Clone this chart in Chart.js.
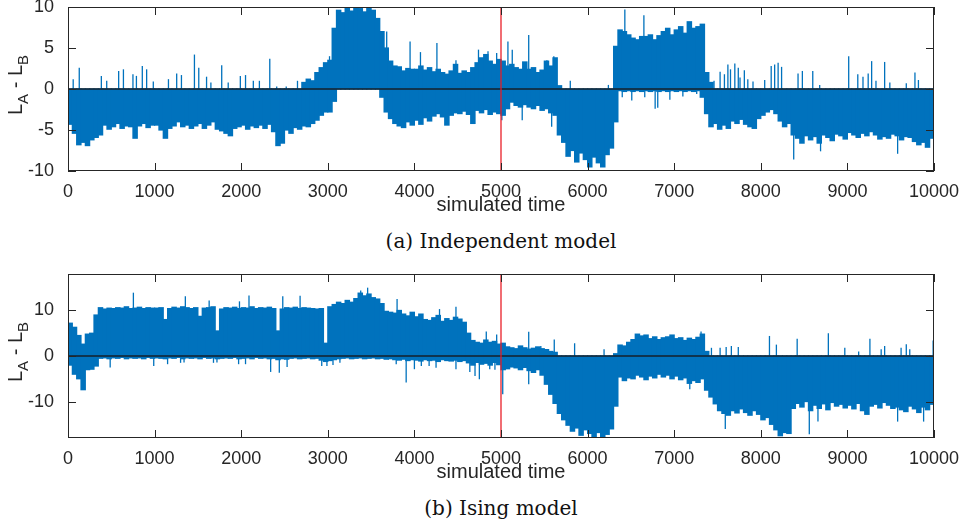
<!DOCTYPE html>
<html><head><meta charset="utf-8">
<script src="https://cdn.jsdelivr.net/npm/chart.js@4.4.1/dist/chart.umd.min.js"></script>
<style>
body{margin:0;background:#fff;width:964px;height:526px;position:relative;overflow:hidden}
canvas{position:absolute;left:0}
.cap{position:absolute;left:0;width:1002px;text-align:center;font-family:"DejaVu Serif",serif;font-size:20px;line-height:22px;color:#111}
</style></head><body>
<canvas id="c1" width="964" height="239" style="top:-13px"></canvas>
<div class="cap" style="top:230px">(a) Independent model</div>
<canvas id="c2" width="964" height="239" style="top:254px"></canvas>
<div class="cap" style="top:497px">(b) Ising model</div>
<script>
// ---- categories / ticks ----
const binWidth = 50;
const binTimes = Array.from({length: 200}, (_, i) => i * binWidth + binWidth / 2);
const xTickValues = [0,1000,2000,3000,4000,5000,6000,7000,8000,9000,10000];
const topYTicks = [-10,-5,0,5,10];
const bottomYTicks = [-10,0,10];
const redLineTime = 5000;

// ---- (a) Independent model: per-bin low / high envelope ----
const topLow = [
 -4.3,-5.4,-6.8,-6.5,-6.9,-6.2,-5.9,-5.6,-4.4,-4.9,-4.6,-4.2,-4.8,-4.5,-4.6,-6.0,-4.5,-4.2,-4.7,-4.4,
 -4.4,-5.0,-6.0,-4.8,-4.5,-4.0,-4.6,-4.4,-4.8,-4.5,-4.2,-4.8,-4.4,-4.0,-4.9,-5.1,-5.4,-5.7,-4.8,-4.6,
 -4.4,-4.9,-4.5,-4.7,-4.4,-4.8,-4.3,-5.2,-6.9,-6.6,-5.0,-5.4,-4.7,-4.9,-4.5,-4.6,-4.2,-3.8,-3.2,-2.8,
 -2.8,-1.5,0,0,0,0,0,0,0,0,0,0,-1.0,-2.8,-3.6,-4.2,-4.5,-4.7,-4.0,-4.4,
 -3.8,-4.3,-3.5,-3.9,-3.3,-3.0,-3.4,-4.4,-3.2,-2.9,-3.0,-2.7,-3.1,-4.2,-2.6,-2.9,-2.5,-3.1,-2.8,-3.0,
 -3.2,-2.4,-1.6,-2.0,-2.2,-1.9,-2.2,-2.4,-2.0,-2.6,-2.4,-2.9,-3.2,-5.6,-6.5,-8.2,-7.5,-8.9,-7.8,-8.6,
 -9.5,-8.3,-9.0,-9.5,-8.0,-7.2,-4.0,-0.2,-0.3,-0.2,-0.3,-0.2,-0.3,-0.2,-0.3,-0.2,-0.3,-0.2,-0.3,-0.2,
 -0.3,-0.2,-0.3,-0.2,-0.3,-0.2,-1.0,-3.0,-4.6,-4.2,-4.9,-4.4,-4.8,-3.9,-4.2,-3.7,-4.3,-4.6,-4.8,-3.6,
 -3.2,-2.8,-2.5,-3.0,-3.9,-4.6,-4.2,-5.6,-6.0,-6.6,-5.7,-6.2,-5.8,-6.6,-5.6,-5.9,-6.3,-5.5,-5.7,-6.1,
 -5.3,-5.6,-5.9,-5.4,-5.7,-5.2,-5.6,-6.1,-5.8,-6.0,-5.5,-5.7,-6.2,-5.8,-5.9,-6.4,-6.8,-6.5,-7.1,-6.0
];
const topHigh = [
 0,0,0,0,0,0,0,0,0,0,0,0,0,0,0,0,0,0,0,0,
 0,0,0,0,0,0,0,0,0,0,0,0,0,0,0,0,0,0,0,0,
 0,0,0,0,0,0,0,0,0,0,0,0,0,0,0.8,1.2,1.0,2.0,2.6,3.2,
 3.5,7.4,9.6,9.3,10.2,9.5,10.2,9.8,9.4,10.2,9.6,8.6,7.0,5.0,3.4,2.8,2.7,2.2,2.5,2.4,
 2.4,2.8,2.3,2.6,2.1,2.4,2.0,1.8,2.2,3.0,1.9,2.2,2.0,2.6,3.2,3.8,4.2,3.4,3.0,3.6,
 3.4,2.8,3.0,2.6,2.4,3.3,2.4,2.6,2.0,2.3,3.4,2.8,3.8,0.4,0,0,0,0,0,0,
 0,0,0,0,0,0,5.2,7.2,7.0,6.6,6.2,6.0,6.4,6.4,6.6,6.0,6.5,7.0,7.4,6.6,
 7.2,7.6,6.8,8.2,7.4,7.6,7.9,2.0,0.8,0,0,0,0,0,0,0,0,0,0,0,
 0,0,0,0,0,0,0,0,0,0,0,0,0,0,0,0,0,0,0,0,
 0,0,0,0,0,0,0,0,0,0,0,0,0,0,0,0,0,0,0,0
];
// isolated thin spikes
const topSpikeTimes = [
 60,130,385,447,585,640,750,790,858,908,985,1160,1255,1310,1460,1510,1600,1650,1775,1850,
 1990,2050,2140,2210,2330,2410,2520,2650,3020,3680,3950,4070,4260,4480,4740,4850,4950,5080,5130,5320,
 5530,5610,5800,6240,6430,6650,7460,7530,7580,7620,7650,7700,7740,7760,7810,7850,7910,8045,8120,8160,
 8200,8240,8430,8480,8600,8680,9015,9120,9180,9240,9280,9330,9430,9490,9680,9780,9820,
 5010,5245,5585,6400,6510,6660,6780,6810,6950,7100,7260,8380,8690,9580
];
const topSpikeValues = [
 1.2,2.6,1.6,1.0,2.2,2.4,1.8,1.6,2.8,2.4,0.9,1.2,1.9,1.7,4.2,2.6,1.5,0.8,2.9,0.8,
 1.6,1.7,1.0,1.0,3.7,0.3,0.3,1.0,4.0,7.0,5.8,4.5,5.6,3.5,4.8,4.6,4.4,5.8,4.8,6.6,
 3.5,4.0,1.0,0.5,9.7,9.0,1.0,2.1,1.8,3.0,2.4,3.1,2.6,1.4,2.3,1.2,0.9,1.1,2.8,3.0,
 3.2,2.7,1.9,2.2,2.2,0.5,4.0,1.8,1.5,1.9,3.4,1.0,3.3,0.8,0.7,2.0,1.1,
 -3.8,-3.8,-4.6,-1.0,-1.4,-1.0,-2.4,-2.3,-1.3,-0.9,-0.6,-8.6,-7.6,-7.9
];

// ---- (b) Ising model ----
const bottomLow = [
 -2.0,-4.0,-5.0,-7.4,-3.0,-2.9,-2.2,-0.5,-0.4,-0.6,-0.4,-0.5,-0.3,-0.6,-0.4,-0.5,-0.4,-0.6,-0.3,-0.5,
 -0.4,-0.5,-0.6,-0.4,-0.5,-0.3,-0.6,-0.4,-0.5,-0.4,-0.6,-0.3,-0.5,-0.4,-0.6,-0.5,-0.4,-0.5,-0.3,-0.6,
 -0.5,-0.4,-0.6,-0.3,-0.5,-0.4,-0.6,-0.5,-0.8,-0.6,-0.7,-0.5,-0.4,-0.6,-0.5,-0.4,-0.6,-0.5,-0.9,-1.2,
 -1.0,-0.8,-0.6,-0.5,-0.4,-0.6,-0.5,-0.4,-0.6,-0.5,-0.4,-0.6,-0.5,-0.7,-0.6,-0.8,-0.9,-0.7,-1.0,-0.8,
 -0.9,-1.1,-0.8,-1.0,-0.9,-1.2,-0.8,-1.0,-1.1,-0.9,-1.2,-1.0,-1.5,-2.0,-1.4,-1.8,-1.6,-2.0,-1.4,-1.9,
 -3.0,-2.8,-2.4,-2.6,-3.0,-2.5,-3.2,-3.6,-3.0,-4.2,-6.2,-8.4,-10.4,-12.6,-14.0,-15.2,-16.5,-15.8,-17.4,-16.2,
 -17.0,-18.5,-16.8,-18.5,-17.2,-16.0,-11.0,-4.6,-5.4,-4.8,-5.0,-4.2,-4.6,-5.2,-4.4,-4.8,-4.0,-4.6,-4.2,-5.0,
 -4.4,-5.2,-4.8,-6.0,-5.4,-5.8,-5.0,-7.5,-9.0,-10.5,-12.0,-12.6,-13.0,-12.0,-12.5,-11.6,-12.4,-13.0,-12.0,-12.8,
 -14.0,-13.5,-15.0,-16.2,-17.5,-16.8,-17.0,-11.5,-10.4,-11.2,-10.0,-12.0,-10.8,-11.5,-10.5,-11.8,-10.2,-11.0,-10.6,-11.4,
 -10.8,-11.6,-10.4,-12.0,-12.8,-11.0,-10.6,-11.4,-10.2,-10.8,-11.5,-11.2,-11.8,-12.2,-11.0,-11.6,-12.4,-11.2,-11.8,-10.6
];
const bottomHigh = [
 7.2,6.3,4.5,2.6,4.8,5.0,9.0,10.6,10.3,10.5,10.4,10.6,10.5,10.8,10.4,10.5,10.7,10.4,10.6,10.5,
 10.5,10.6,8.0,10.4,10.7,10.5,10.8,10.6,10.4,10.6,8.7,10.5,10.6,10.8,5.5,10.3,10.6,10.5,10.7,10.4,
 10.6,10.5,10.8,10.4,10.6,10.5,10.7,10.4,5.5,10.3,10.6,10.5,10.7,10.4,10.6,10.5,10.4,10.3,10.4,2.8,
 10.8,11.3,11.8,11.5,12.2,11.8,12.6,13.8,13.2,13.6,12.8,12.5,11.5,9.8,9.6,9.4,10.0,9.2,8.8,9.6,
 8.6,9.2,8.0,7.8,8.4,8.9,7.6,8.2,7.8,8.5,8.1,7.4,5.0,3.4,3.0,2.8,3.5,3.0,3.2,2.6,
 2.8,2.0,1.8,1.6,2.2,1.8,1.5,1.7,2.0,1.6,1.4,1.0,0.8,0,0,0,0,0,0,0,
 0,0,0,0,0,0,0.5,2.4,2.2,3.0,3.6,4.8,4.4,4.6,3.8,4.2,3.6,4.0,4.2,4.6,
 3.8,4.0,3.4,3.9,3.6,4.1,4.8,1.0,0,0,0,0,0,0,0,0,0,0,0,0,
 0,0,0,0,0,0,0,0,0,0,0,0,0,0,0,0,0,0,0,0,
 0,0,0,0,0,0,0,0,0,0,0,0,0,0,0,0,0,0,0,0
];
const bottomSpikeTimes = [
 755,1355,1630,1980,2090,2480,2680,3380,3460,3800,4290,4480,4830,4950,5320,5460,5615,5850,6190,7310,
 7430,7530,7600,7660,7740,8100,8180,8420,8780,8970,9130,9260,9390,9430,9620,9680,9720,9990,
 487,990,1150,1300,1340,1680,1720,1970,2050,2340,2440,2530,2930,2990,3060,3140,3790,3905,4000,4080,
 4170,4250,4480,4640,4700,4750,4870,4930,5020,5320,7180,7590,8560,8660,9240,9580,9880
];
const bottomSpikeValues = [
 13.9,13.1,12.2,12.0,13.3,13.1,13.2,14.4,15.0,12.5,10.3,10.8,5.4,4.7,5.3,2.2,3.6,2.8,1.5,5.4,
 1.8,1.8,2.0,2.2,2.0,4.4,2.5,3.8,5.0,1.8,1.0,3.8,1.5,2.2,1.8,2.6,1.5,3.4,
 -2.5,-2.2,-1.8,-1.5,-1.4,-1.5,-1.4,-1.8,-1.8,-3.5,-3.7,-2.4,-2.2,-2.2,-2.0,-1.5,-1.8,-5.8,-2.9,-2.2,
 -2.2,-2.6,-2.9,-3.5,-4.4,-5.1,-2.9,-3.0,-8.4,-6.2,-7.3,-16.0,-17.2,-14.4,-12.8,-14.4,-14.4
];

// ---- drawing ----
const AXIS_COLOR = '#262626';
const BLUE = '#0072BD';
const TICK_FONT = {family: 'Liberation Sans, Arial, sans-serif', size: 18};
const TICK_LEN = 8;

const framePlugin = {
  id: 'frame',
  afterDatasetsDraw(chart) {
    const {ctx, chartArea: a, scales: {x, y}} = chart;
    ctx.save();
    // zero line
    const y0 = y.getPixelForValue(0);
    ctx.strokeStyle = '#15202b';
    ctx.lineWidth = 1.6;
    ctx.beginPath(); ctx.moveTo(a.left, y0); ctx.lineTo(a.right, y0); ctx.stroke();
    // red marker
    const xr = x.getPixelForValue(redLineTime);
    ctx.strokeStyle = 'rgba(232,28,36,0.8)';
    ctx.lineWidth = 1.6;
    ctx.beginPath(); ctx.moveTo(xr, a.top); ctx.lineTo(xr, a.bottom); ctx.stroke();
    // box
    ctx.strokeStyle = AXIS_COLOR;
    ctx.lineWidth = 1;
    ctx.strokeRect(a.left + 0.5, a.top + 0.5, a.right - a.left - 1, a.bottom - a.top - 1);
    // inward ticks
    ctx.beginPath();
    x.ticks.forEach(t => {
      const px = Math.round(x.getPixelForValue(t.value)) + 0.5;
      ctx.moveTo(px, a.bottom); ctx.lineTo(px, a.bottom - TICK_LEN);
      ctx.moveTo(px, a.top); ctx.lineTo(px, a.top + TICK_LEN);
    });
    y.ticks.forEach(t => {
      const py = Math.round(y.getPixelForValue(t.value)) + 0.5;
      ctx.moveTo(a.left, py); ctx.lineTo(a.left + TICK_LEN, py);
      ctx.moveTo(a.right, py); ctx.lineTo(a.right - TICK_LEN, py);
    });
    ctx.stroke();
    // y axis title  L_A - L_B
    const cy = (a.top + a.bottom) / 2 - 4;
    ctx.translate(22, cy);
    ctx.rotate(-Math.PI / 2);
    ctx.fillStyle = AXIS_COLOR;
    ctx.textBaseline = 'alphabetic';
    const big = '20px Liberation Sans, Arial, sans-serif';
    const small = '15px Liberation Sans, Arial, sans-serif';
    const parts = [['L', big, 0], ['A', small, 6], [' - ', big, 0], ['L', big, 0], ['B', small, 6]];
    let total = 0;
    parts.forEach(p => { ctx.font = p[1]; total += ctx.measureText(p[0]).width; });
    let px = -total / 2;
    parts.forEach(p => { ctx.font = p[1]; ctx.fillText(p[0], px, p[2]); px += ctx.measureText(p[0]).width; });
    ctx.restore();
  }
};

function makeChart(id, lo, hi, spT, spV, yMin, yMax, yTicks) {
  const core = binTimes.map((t, i) => ({x: t, y: [lo[i], hi[i]]}));
  const spikes = spT.map((t, i) => ({x: t, y: [0, spV[i]]}));
  return new Chart(document.getElementById(id), {
    type: 'bar',
    data: {datasets: [
      {data: core, backgroundColor: BLUE, borderWidth: 0, inflateAmount: 0.6, barThickness: 'flex', barPercentage: 1, categoryPercentage: 1, stack: 's'},
      {data: spikes, backgroundColor: BLUE, borderWidth: 0, inflateAmount: 0, barThickness: 1.3, stack: 's'}
    ]},
    options: {
      responsive: false, animation: false, events: [],
      layout: {padding: {top: 20, right: 30, left: 0, bottom: 0}},
      plugins: {legend: {display: false}, tooltip: {enabled: false}},
      scales: {
        x: {
          type: 'linear', min: 0, max: 10000, offset: false,
          grid: {display: false, offset: false}, border: {display: false},
          afterBuildTicks: s => { s.ticks = xTickValues.map(v => ({value: v})); },
          afterFit: s => { s.height = 55; },
          ticks: {autoSkip: false, maxRotation: 0, padding: 2, color: AXIS_COLOR, font: TICK_FONT, callback: v => String(v)},
          title: {display: true, text: 'simulated time', color: AXIS_COLOR,
                  font: {family: 'Liberation Sans, Arial, sans-serif', size: 20}, padding: {top: 0, bottom: 9}}
        },
        y: {
          min: yMin, max: yMax, stacked: false,
          grid: {display: false}, border: {display: false},
          afterBuildTicks: s => { s.ticks = yTicks.map(v => ({value: v})); },
          afterFit: s => { s.width = 68; },
          ticks: {padding: 6, color: AXIS_COLOR, font: TICK_FONT}
        }
      }
    },
    plugins: [framePlugin]
  });
}

makeChart('c1', topLow, topHigh, topSpikeTimes, topSpikeValues, -10, 10, topYTicks);
makeChart('c2', bottomLow, bottomHigh, bottomSpikeTimes, bottomSpikeValues, -18, 18, bottomYTicks);
</script>
</body></html>
